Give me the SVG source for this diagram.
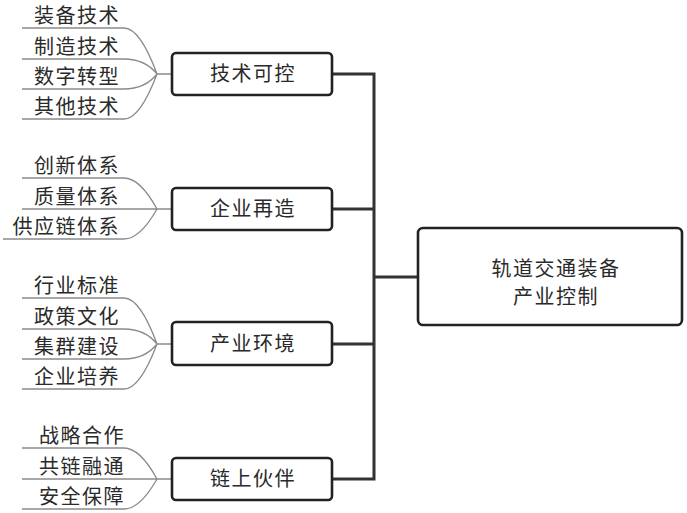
<svg xmlns="http://www.w3.org/2000/svg" width="687" height="513" viewBox="0 0 687 513">
<style>
.leaf{font-family:"Noto Sans CJK SC","Liberation Sans",sans-serif;font-size:20px;fill:#2a2a2a;text-anchor:end;letter-spacing:1.5px}
.lbl{font-family:"Noto Sans CJK SC","Liberation Sans",sans-serif;font-size:20px;fill:#2a2a2a;text-anchor:middle;letter-spacing:1.5px}
.box{fill:#fff;stroke:#222;stroke-width:2.6}
.br{fill:none;stroke:#8a8a8a;stroke-width:1.3}
.main{fill:none;stroke:#333;stroke-width:3}
</style>
<rect width="687" height="513" fill="#fff"/>
<g id="connectors">
<path class="main" d="M332,74 H374 V479 H332 M374,209 H332 M374,344 H332 M374,277 H417"/>
<path class="br" d="M22,28 H124 Q140,28 157,74 M22,59 H124 Q145,59 157,74 M22,89 H124 Q145,89 157,74 M22,119 H124 Q140,119 157,74 M157,74 H172"/>
<path class="br" d="M22,178 H124 Q140,178 157,209 M22,209 H172 M3,239 H124 Q140,239 157,209"/>
<path class="br" d="M22,298 H124 Q140,298 157,344 M22,329 H124 Q145,329 157,344 M22,359 H124 Q145,359 157,344 M22,389 H124 Q140,389 157,344 M157,344 H172"/>
<path class="br" d="M22,448 H124 Q140,448 157,479 M22,479 H172 M22,509 H124 Q140,509 157,479"/>
</g>
<g id="n1">
<rect class="box" x="172" y="53" width="160" height="42" rx="4"/>
<text class="lbl" x="253" y="81">技术可控</text>
</g>
<g id="n1a"><text class="leaf" x="120" y="23">装备技术</text></g>
<g id="n1b"><text class="leaf" x="120" y="54">制造技术</text></g>
<g id="n1c"><text class="leaf" x="120" y="84">数字转型</text></g>
<g id="n1d"><text class="leaf" x="120" y="114">其他技术</text></g>
<g id="n2">
<rect class="box" x="172" y="188" width="160" height="42" rx="4"/>
<text class="lbl" x="253" y="216">企业再造</text>
</g>
<g id="n2a"><text class="leaf" x="120" y="173">创新体系</text></g>
<g id="n2b"><text class="leaf" x="120" y="204">质量体系</text></g>
<g id="n2c"><text class="leaf" x="120" y="234">供应链体系</text></g>
<g id="n3">
<rect class="box" x="172" y="322" width="160" height="43" rx="4"/>
<text class="lbl" x="253" y="351">产业环境</text>
</g>
<g id="n3a"><text class="leaf" x="120" y="293">行业标准</text></g>
<g id="n3b"><text class="leaf" x="120" y="324">政策文化</text></g>
<g id="n3c"><text class="leaf" x="120" y="354">集群建设</text></g>
<g id="n3d"><text class="leaf" x="120" y="384">企业培养</text></g>
<g id="n4">
<rect class="box" x="172" y="458" width="160" height="42" rx="4"/>
<text class="lbl" x="253" y="486">链上伙伴</text>
</g>
<g id="n4a"><text class="leaf" x="125" y="443">战略合作</text></g>
<g id="n4b"><text class="leaf" x="125" y="474">共链融通</text></g>
<g id="n4c"><text class="leaf" x="125" y="504">安全保障</text></g>
<g id="root">
<rect class="box" x="418" y="228" width="264" height="97" rx="5"/>
<text class="lbl" x="556" y="276">轨道交通装备</text>
<text class="lbl" x="556" y="304">产业控制</text>
</g>
</svg>
